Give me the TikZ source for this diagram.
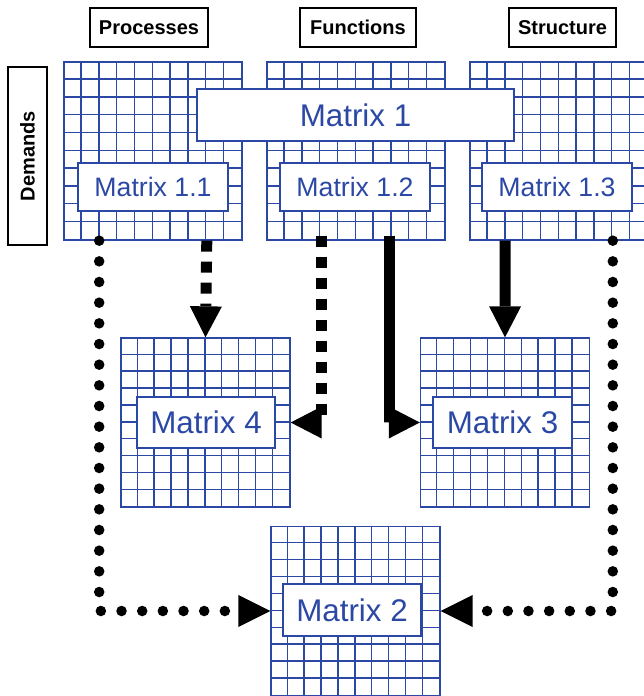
\documentclass[tikz,border=0pt]{standalone}
\usepackage{fontspec}
\setmainfont{Liberation Sans}
\usetikzlibrary{calc,arrows.meta}
\definecolor{mblue}{RGB}{44,72,165}
\newcommand{\mgridlines}[2]{%
  \foreach \i in {1,...,9}{
    \draw[gridline] ([xshift=\i*#2]#1.north west) -- ([xshift=\i*#2]#1.south west);
    \draw[gridline] ([yshift=-\i*#2]#1.north west) -- ([yshift=-\i*#2]#1.north east);
  }}
\begin{document}
\begin{tikzpicture}[x=0.75pt,y=-0.75pt,
  gridbox/.style={draw=mblue, line width=1pt, fill=white, inner sep=0pt,
    minimum width=#1, minimum height=#1},
  gridline/.style={draw=mblue, line width=1pt},
  mbox/.style={draw=mblue, line width=1pt, fill=white, text=mblue, inner sep=0pt},
  smalltxt/.style={font=\fontsize{20}{24}\selectfont},
  bigtxt/.style={font=\fontsize{23.5}{28}\selectfont},
  head/.style={draw=black, line width=1pt, fill=white, inner sep=0pt,
    minimum height=29.25pt, font=\bfseries\fontsize{15}{18}\selectfont},
  tip/.style={-{Triangle[length=#1 0 0,width=24pt 0 0,line width=0pt 0 0]}},
  dashedarrow/.style={line width=8.25pt, dash pattern=on 8.25pt off 7.5pt, tip=23.25pt},
  solidarrow/.style={line width=8.25pt, tip=23.25pt},
  dottedarrow/.style={line width=7.9pt, line cap=round, dash pattern=on 0pt off 15.5pt, tip=24pt},
]
\useasboundingbox (0,0) rectangle (643,696);

% headers
\node[head, minimum width=88.5pt] (hp) at (149,27.5) {Processes};
\node[head, minimum width=87pt] (hf) at (358,27.5) {Functions};
\node[head, minimum width=80.25pt] (hs) at (562.5,27.5) {Structure};
\node[head, rotate=90, minimum width=133.5pt, minimum height=29.25pt] (hd) at (27.5,156) {Demands};

% grids
\node[gridbox=133.5pt] (g11) at (153,151) {};
\mgridlines{g11}{13.35pt}
\node[gridbox=133.5pt] (g12) at (356,151) {};
\mgridlines{g12}{13.35pt}
\node[gridbox=133.5pt] (g13) at (559,151) {};
\mgridlines{g13}{13.35pt}
\node[gridbox=126.75pt] (g4) at (205.5,422.5) {};
\mgridlines{g4}{12.675pt}
\node[gridbox=126.75pt] (g3) at (505,422.5) {};
\mgridlines{g3}{12.675pt}
\node[gridbox=126.75pt] (g2) at (355.5,611) {};
\mgridlines{g2}{12.675pt}

% matrix labels
\node[mbox, smalltxt, minimum width=112.5pt, minimum height=36pt] (m11) at (153,187) {Matrix 1.1};
\node[mbox, smalltxt, minimum width=112.5pt, minimum height=36pt] (m12) at (355,187) {Matrix 1.2};
\node[mbox, smalltxt, minimum width=112.5pt, minimum height=36pt] (m13) at (557,187) {Matrix 1.3};
\node[mbox, bigtxt, minimum width=237.75pt, minimum height=39pt] (m1) at (355.5,115) {Matrix 1};
\node[mbox, bigtxt, minimum width=103.5pt, minimum height=38.25pt] (m4) at (206,422.5) {Matrix 4};
\node[mbox, bigtxt, minimum width=104.25pt, minimum height=38.25pt] (m3) at (502.5,422.5) {Matrix 3};
\node[mbox, bigtxt, minimum width=103.5pt, minimum height=39pt] (m2) at (352,610) {Matrix 2};

% connectors
\draw[dashedarrow] ($(g11.south west)!0.8!(g11.south east)$) -- (g4.north);
\draw[dashedarrow] ($(g12.south west)!0.31!(g12.south east)+(0,-5)$) |- (g4.east);
\draw[solidarrow] ($(g12.south west)!0.685!(g12.south east)+(0,-5)$) |- (g3.west);
\draw[solidarrow] ($(g13.south west)!0.2!(g13.south east)$) -- (g3.north);
\draw[dottedarrow] ($(g11.south west)!0.2!(g11.south east)$) |- (g2.west);
\draw[dottedarrow] ($(g13.south west)!0.8!(g13.south east)$) |- (g2.east);
\end{tikzpicture}
\end{document}
